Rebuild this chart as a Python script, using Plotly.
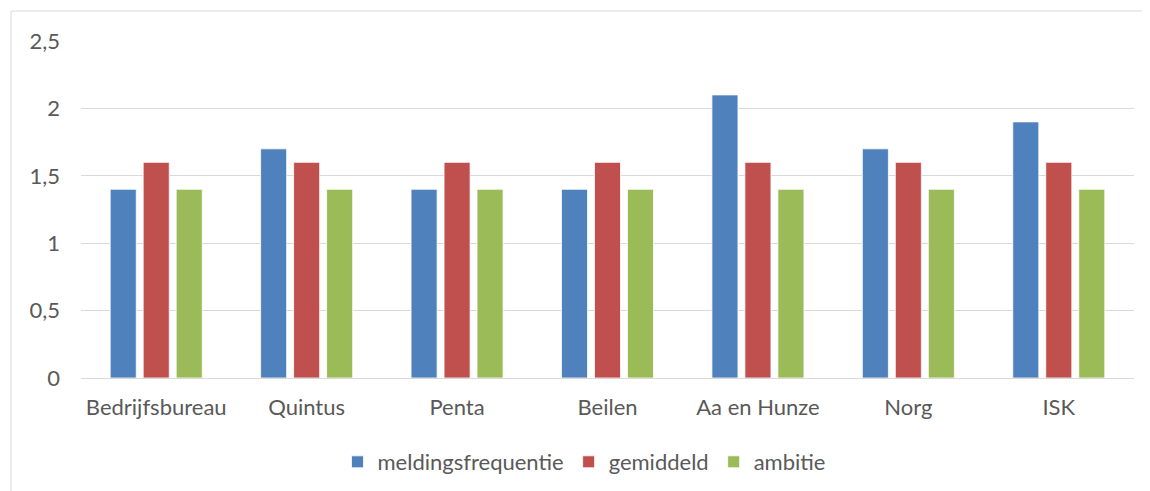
import plotly.graph_objects as go

categories = ["Bedrijfsbureau", "Quintus", "Penta", "Beilen", "Aa en Hunze", "Norg", "ISK"]
meldingsfrequentie = [1.4, 1.7, 1.4, 1.4, 2.1, 1.7, 1.9]
gemiddeld = [1.6, 1.6, 1.6, 1.6, 1.6, 1.6, 1.6]
ambitie = [1.4, 1.4, 1.4, 1.4, 1.4, 1.4, 1.4]

series = [
    ("meldingsfrequentie", meldingsfrequentie, "#4F81BD"),
    ("gemiddeld", gemiddeld, "#C0504D"),
    ("ambitie", ambitie, "#9BBB59"),
]

fig = go.Figure()
for name, vals, color in series:
    fig.add_trace(go.Bar(
        name=name, x=categories, y=vals,
        marker=dict(color=color, line=dict(color="white", width=0.8)),
    ))

# page body has an 8px margin, so the figure is offset by 8px
OFF = 8
W, H = 1150 - OFF, 491 - OFF
L, T, R, B = 81 - OFF, 41 - OFF, 16, 113
PW, PH = W - L - R, H - T - B

font_family = "Lato, 'Open Sans', sans-serif"
fig.update_layout(
    width=W, height=H,
    margin=dict(l=L, r=R, t=T, b=B, pad=0),
    paper_bgcolor="white", plot_bgcolor="white",
    barmode="group", bargap=0.342, bargroupgap=0.21,
    separators=",.",
    font=dict(family=font_family, size=22, color="#595959"),
    showlegend=True,
    legend=dict(
        orientation="h", xref="container", yref="container",
        x=(584 - OFF) / W, xanchor="center", y=1 - (462 - OFF) / H, yanchor="middle",
        font=dict(size=22, color="#595959"),
        itemwidth=30, traceorder="normal",
    ),
    xaxis=dict(
        showgrid=False, showline=True, linecolor="#D9D9D9", linewidth=1,
        ticks="", ticklabelstandoff=10,
    ),
    yaxis=dict(
        range=[0, 2.5], dtick=0.5, showgrid=True, gridcolor="#D9D9D9",
        gridwidth=1, zeroline=False, showline=False, ticks="",
        ticklabelstandoff=20,
    ),
    shapes=[
        dict(type="line", xref="paper", yref="paper",
             x0=(11 - 81) / PW, x1=(1150 - 81) / PW,
             y0=(378 - 11) / PH, y1=(378 - 11) / PH,
             line=dict(color="#D9D9D9", width=1)),
        dict(type="line", xref="paper", yref="paper",
             x0=(11 - 81) / PW, x1=(11 - 81) / PW,
             y0=(378 - 11) / PH, y1=(378 - 491) / PH,
             line=dict(color="#D9D9D9", width=1)),
    ],
)

fig.write_html("out.html")
